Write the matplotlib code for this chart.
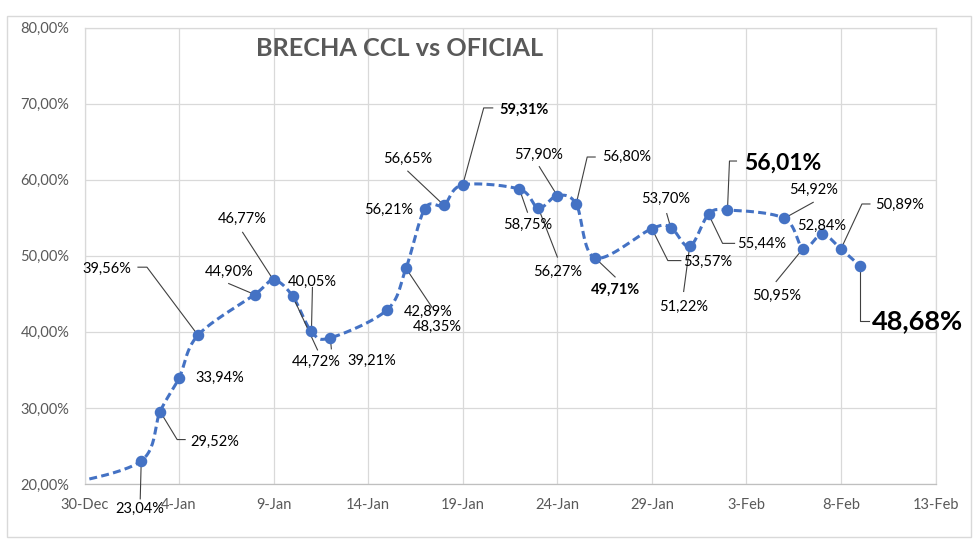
import numpy as np
import matplotlib
matplotlib.use("Agg")
import matplotlib.pyplot as plt
import matplotlib.dates as mdates
import matplotlib.transforms as mtransforms
from matplotlib.lines import Line2D
from matplotlib.patches import Rectangle
from matplotlib.ticker import FuncFormatter, FixedLocator

plt.rcParams['font.family'] = 'Lato'

# Datos: brecha CCL vs oficial (%). El primer punto queda fuera del eje (29-Dec)
fechas = np.array(['2023-12-29', '2024-01-02', '2024-01-03', '2024-01-04', '2024-01-05',
                   '2024-01-08', '2024-01-09', '2024-01-10', '2024-01-11', '2024-01-12',
                   '2024-01-15', '2024-01-16', '2024-01-17', '2024-01-18', '2024-01-19',
                   '2024-01-22', '2024-01-23', '2024-01-24', '2024-01-25', '2024-01-26',
                   '2024-01-29', '2024-01-30', '2024-01-31', '2024-02-01', '2024-02-02',
                   '2024-02-05', '2024-02-06', '2024-02-07', '2024-02-08', '2024-02-09'],
                  dtype='datetime64[D]')
brecha = [19.9, 23.04, 29.52, 33.94, 39.56,
          44.90, 46.77, 44.72, 40.05, 39.21,
          42.89, 48.35, 56.21, 56.65, 59.31,
          58.75, 56.27, 57.90, 56.80, 49.71,
          53.57, 53.70, 51.22, 55.44, 56.01,
          54.92, 50.95, 52.84, 50.89, 48.68]

y_ticks = [20, 30, 40, 50, 60, 70, 80]
titulo = "BRECHA CCL vs OFICIAL"

# posicion de cada etiqueta (px desde el punto, y hacia abajo), guia, estilo
colocacion = [
    ((-1, 48), [(0, 0), (-1, 38)], 'n'),
    ((55, 30), [(0, 0), (17, 28), (25, 28)], 'n'),
    ((41, 0), None, 'n'),
    ((-91, -66), [(0, 0), (-51, -68), (-60, -68)], 'n'),
    ((-26, -23), [(0, 0), (-26, -11)], 'n'),
    ((-31, -61), [(0, 0), (-31, -48)], 'n'),
    ((24, 66), [(0, 0), (25, 54)], 'n'),
    ((1, -50), [(0, 0), (1, -44)], 'n'),
    ((41, 23), [(0, 0), (1, 11)], 'n'),
    ((41, 2), None, 'n'),
    ((31, 59), [(0, 0), (26, 39)], 'n'),
    ((-36, 1), None, 'n'),
    ((-36, -46), [(0, 0), (-36, -34)], 'n'),
    ((61, -75), [(0, 0), (21, -77), (30, -77)], 'b'),
    ((8, 36), [(0, 0), (8, 23)], 'n'),
    ((19, 64), [(0, 0), (19, 49)], 'n'),
    ((-19, -41), [(0, 0), (-18, -29)], 'n'),
    ((50, -47), [(0, 0), (11, -47), (19, -47)], 'n'),
    ((20, 32), [(0, 0), (20, 19)], 'b'),
    ((56, 33), [(0, 0), (16, 32), (29, 32)], 'n'),
    ((-5, -29), [(0, 0), (-4, -14)], 'n'),
    ((-6, 60), [(0, 0), (-6, 45)], 'n'),
    ((53, 30), [(0, 0), (14, 29), (26, 29)], 'n'),
    ((55, -47), [(0, 0), (2, -49), (9, -49)], 'B1'),
    ((29, -28), [(0, 0), (29, -16)], 'n'),
    ((-26, 47), [(0, 0), (-27, 33)], 'n'),
    ((0, -8), None, 'n'),
    ((59, -44), [(0, 0), (21, -45), (29, -45)], 'n'),
    ((58, 55), [(0, 0), (0, 55), (9, 55)], 'B2'),
]
estilos = {'n': (10.5, 'normal'), 'b': (10.5, 'bold'),
           'B1': (16.5, 'bold'), 'B2': (19.5, 'bold')}


def curva_suave(x, y, n=25):
    # bezier tipo "linea suavizada" de Excel (catmull-rom, 1/6)
    px = np.concatenate([[x[0]], x, [x[-1]]])
    py = np.concatenate([[y[0]], y, [y[-1]]])
    t = np.linspace(0, 1, n)[:, None]
    xs, ys = [], []
    for i in range(1, len(px) - 2):
        p0 = np.array([px[i], py[i]])
        p3 = np.array([px[i + 1], py[i + 1]])
        p1 = p0 + (p3 - np.array([px[i - 1], py[i - 1]])) / 6
        p2 = p3 - (np.array([px[i + 2], py[i + 2]]) - p0) / 6
        b = (1 - t)**3 * p0 + 3 * (1 - t)**2 * t * p1 + 3 * (1 - t) * t**2 * p2 + t**3 * p3
        xs.extend(b[:, 0])
        ys.extend(b[:, 1])
    return np.array(xs), np.array(ys)


W, H = 980, 550
fig = plt.figure(figsize=(W / 100, H / 100), dpi=100)
fig.patch.set_facecolor('white')
fig.add_artist(Rectangle((7 / W, 1 - 537 / H), (971 - 7) / W, (537 - 16) / H,
                         transform=fig.transFigure, fill=False,
                         edgecolor='#D9D9D9', lw=1))

left, right, top, bottom = 84.5, 935.5, 27.5, 484
ax = fig.add_axes([left / W, 1 - bottom / H, (right - left) / W, (bottom - top) / H])

xnum = mdates.date2num(fechas)
x0 = mdates.date2num(np.datetime64('2023-12-30'))
x1 = mdates.date2num(np.datetime64('2024-02-13'))
ax.set_xlim(x0, x1)
ax.set_ylim(20, 80)

xs, ys = curva_suave(xnum, np.array(brecha))
ax.plot(xs, ys, color='#4472C4', lw=2.2, ls=(0, (2.6, 1.4)),
        dash_capstyle='butt', zorder=2)
ax.plot(xnum[1:], brecha[1:], 'o', color='#4472C4', ms=7.3, zorder=4)

ax.xaxis.set_major_locator(FixedLocator(np.arange(x0, x1 + 1, 5)))
ax.xaxis.set_major_formatter(mdates.DateFormatter('%-d-%b'))
ax.set_yticks(y_ticks)
ax.yaxis.set_major_formatter(FuncFormatter(lambda v, p: f"{v:.2f}%".replace('.', ',')))
ax.tick_params(axis='both', length=0, labelsize=10.5, labelcolor='#595959')
ax.tick_params(axis='x', pad=10)
ax.tick_params(axis='y', pad=11)
ax.grid(True, color='#D9D9D9', lw=0.9)
ax.set_axisbelow(True)
for s in ['top', 'right', 'left']:
    ax.spines[s].set_color('#D9D9D9')
    ax.spines[s].set_linewidth(0.9)
ax.spines['bottom'].set_color('#BFBFBF')
ax.spines['bottom'].set_linewidth(0.9)

fig.text(256 / W, 1 - 48 / H, titulo, ha='left', va='center',
         fontsize=18.2, fontweight='bold', color='#595959')

# etiquetas de datos con guias
for xi, v, (off, guia, est) in zip(xnum[1:], brecha[1:], colocacion):
    bx, by = ax.transData.transform((xi, v))
    if guia is not None:
        gx = [bx + d[0] for d in guia]
        gy = [by - d[1] for d in guia]
        ax.add_line(Line2D(gx, gy, transform=mtransforms.IdentityTransform(),
                           color='#404040', lw=0.8, zorder=3, clip_on=False))
    size, weight = estilos[est]
    ax.annotate(f"{v:.2f}%".replace('.', ','), xy=(xi, v),
                xytext=(off[0], -off[1]), textcoords='offset pixels',
                ha='center', va='center', fontsize=size, fontweight=weight,
                color='black', zorder=5, annotation_clip=False)

fig.savefig('out.png', dpi=100)
